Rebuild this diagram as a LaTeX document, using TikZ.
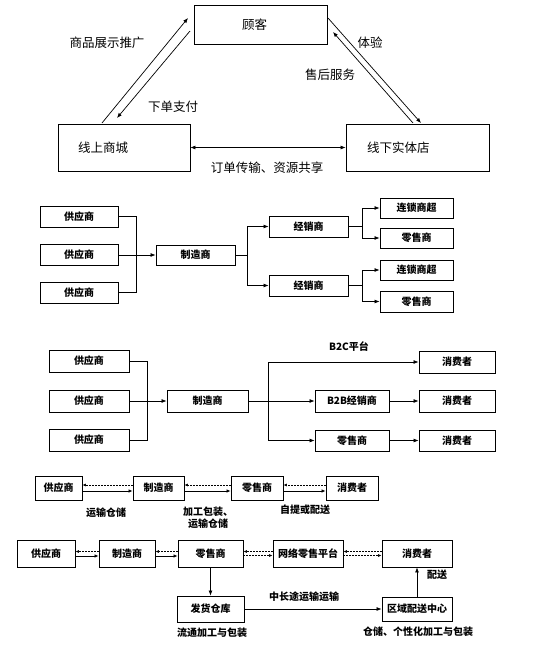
\documentclass[tikz,border=0pt]{standalone}
\usepackage{fontspec}
\setmainfont{Noto Sans CJK SC}
\usetikzlibrary{arrows.meta}
\begin{document}
\begin{tikzpicture}[x=1pt,y=-1pt,
  box/.style={draw, line width=0.9pt, inner sep=0pt, font=\fontsize{10}{12}\selectfont\bfseries},
  bigbox/.style={draw, line width=0.8pt, inner ysep=0pt, align=left, font=\fontsize{12.5}{14}\selectfont},
  lbl/.style={font=\fontsize{12.5}{14}\selectfont, inner sep=0pt},
  slbl/.style={font=\fontsize{10}{12}\selectfont\bfseries, inner sep=0pt, align=center},
  arr/.style={line width=0.7pt, -{Latex[length=5pt,width=4pt]}},
  arrb/.style={line width=0.7pt, {Latex[length=5pt,width=4pt]}-{Latex[length=5pt,width=4pt]}},
  ln/.style={line width=0.7pt},
  darr/.style={line width=0.6pt, dashed, dash pattern=on 2pt off 1pt, -{Latex[length=3.5pt,width=3pt]}},
  sarr/.style={line width=0.7pt, -{Latex[length=4pt,width=3.5pt]}}
]
\useasboundingbox (0,0) rectangle (533,646);

% ---------- Panel 1 ----------
\node[bigbox, minimum height=39, text width=37, inner xsep=48] (gk) at (260.5,24.5) {顾客};
\node[bigbox, minimum height=47, text width=92, inner xsep=20] (ol) at (124,147.5) {线上商城};
\node[bigbox, minimum height=47, text width=101, inner xsep=21] (os) at (417.5,147.5) {线下实体店};
\coordinate (a1) at (102,123); \coordinate (a2) at (188,18);
\coordinate (a3) at (190,31);  \coordinate (a4) at (117,118);
\coordinate (a5) at (328,18);  \coordinate (a6) at (421,123);
\coordinate (a7) at (413,123); \coordinate (a8) at (333,32);
\draw[arr] (a1) -- (a2);
\draw[arr] (a3) -- (a4);
\draw[arr] (a5) -- (a6);
\draw[arr] (a7) -- (a8);
\draw[arrb] (ol.east) -- (os.west);
\node[lbl] (l1) at (107,43) {商品展示推广};
\node[lbl] (l2) at (173,107) {下单支付};
\node[lbl] (l3) at (370,43) {体验};
\node[lbl] (l4) at (330,75) {售后服务};
\node[lbl] (l5) at (267,168) {订单传输、资源共享};

% ---------- Panel 2 ----------
\node[box, minimum width=78, minimum height=21] (s1) at (79,216.5) {供应商};
\node[box, minimum width=78, minimum height=21] (s2) at (79,255) {供应商};
\node[box, minimum width=78, minimum height=21] (s3) at (79,292.5) {供应商};
\node[box, minimum width=79, minimum height=20] (mf) at (195.5,255) {制造商};
\node[box, minimum width=79, minimum height=21] (d1) at (308.5,226.5) {经销商};
\node[box, minimum width=79, minimum height=21] (d2) at (308.5,285.5) {经销商};
\node[box, minimum width=73, minimum height=20] (c1) at (416.5,208) {连锁商超};
\node[box, minimum width=73, minimum height=20] (r1) at (416.5,238) {零售商};
\node[box, minimum width=73, minimum height=20] (c2) at (416.5,270) {连锁商超};
\node[box, minimum width=73, minimum height=21] (r2) at (416.5,301.5) {零售商};
\coordinate (j1) at (136,255);
\coordinate (j2) at (247,255);
\coordinate (j3) at (362,226.5);
\coordinate (j4) at (362,285.5);
\draw[ln] (s1.east) -| (j1);
\draw[ln] (s3.east) -| (j1);
\draw[arr] (s2.east) -- (mf.west);
\draw[ln] (mf.east) -- (j2);
\draw[arr] (j2) |- (d1.west);
\draw[arr] (j2) |- (d2.west);
\draw[ln] (d1.east) -- (j3);
\draw[arr] (j3) |- (c1.west);
\draw[arr] (j3) |- (r1.west);
\draw[ln] (d2.east) -- (j4);
\draw[arr] (j4) |- (c2.west);
\draw[arr] (j4) |- (r2.west);

% ---------- Panel 3 ----------
\node[box, minimum width=80, minimum height=22] (t1) at (89,361) {供应商};
\node[box, minimum width=80, minimum height=22] (t2) at (89,401) {供应商};
\node[box, minimum width=80, minimum height=22] (t3) at (89,440) {供应商};
\node[box, minimum width=81, minimum height=22] (m3) at (207.5,401) {制造商};
\node[box, minimum width=74, minimum height=22] (b2b) at (352,401) {B2B经销商};
\node[box, minimum width=74, minimum height=21] (ls) at (352,440.5) {零售商};
\node[box, minimum width=76, minimum height=22] (cs1) at (457,362) {消费者};
\node[box, minimum width=76, minimum height=22] (cs2) at (457,401) {消费者};
\node[box, minimum width=76, minimum height=21] (cs3) at (457,440.5) {消费者};
\coordinate (j5) at (147,401);
\coordinate (j6) at (268,401);
\draw[ln] (t1.east) -| (j5);
\draw[ln] (t3.east) -| (j5);
\draw[arr] (t2.east) -- (m3.west);
\draw[arr] (m3.east) -- (b2b.west);
\draw[arr] (j6) |- (cs1.west);
\draw[arr] (j6) |- (ls.west);
\draw[arr] (b2b.east) -- (cs2.west);
\draw[arr] (ls.east) -- (cs3.west);
\node[slbl] (b2c) at (349,347) {B2C平台};

% ---------- Panel 4 ----------
\node[box, minimum width=47, minimum height=24] (p1) at (58.5,488) {供应商};
\node[box, minimum width=51, minimum height=24] (p2) at (158.5,488) {制造商};
\node[box, minimum width=52, minimum height=24] (p3) at (257,488) {零售商};
\node[box, minimum width=52, minimum height=24] (p4) at (352,488) {消费者};
\foreach \a/\b in {p1/p2, p2/p3, p3/p4}{
  \draw[sarr] ([yshift=-3pt]\a.east) -- ([yshift=-3pt]\b.west);
  \draw[darr] ([yshift=3pt]\b.west) -- ([yshift=3pt]\a.east);
}
\node[slbl] (w1) at (106,513) {运输仓储};
\node[slbl] (w2) at (208,517.5) {加工包装、\\运输仓储};
\node[slbl] (w3) at (305,510) {自提或配送};

% ---------- Panel 5 ----------
\node[box, minimum width=58, minimum height=27] (q1) at (46,553.5) {供应商};
\node[box, minimum width=56, minimum height=27] (q2) at (127,553.5) {制造商};
\node[box, minimum width=65, minimum height=27] (q3) at (210.5,553.5) {零售商};
\node[box, minimum width=70, minimum height=27] (q4) at (308,553.5) {网络零售平台};
\node[box, minimum width=70, minimum height=27] (q5) at (417,553.5) {消费者};
\node[box, minimum width=67, minimum height=26] (q6) at (210.5,609) {发货仓库};
\node[box, minimum width=70, minimum height=24] (q7) at (417,609) {区域配送中心};
\foreach \a/\b in {q1/q2, q2/q3}{
  \draw[sarr] ([yshift=-2.5pt]\a.east) -- ([yshift=-2.5pt]\b.west);
  \draw[darr] ([yshift=2pt]\b.west) -- ([yshift=2pt]\a.east);
}
\foreach \a/\b in {q3/q4, q4/q5}{
  \draw[darr] ([yshift=-2pt]\a.east) -- ([yshift=-2pt]\b.west);
  \draw[darr] ([yshift=2pt]\b.west) -- ([yshift=2pt]\a.east);
}
\draw[arr] (q3.south) -- (q6.north);
\draw[arr] (q6.east) -- (q7.west);
\draw[arr] (q7.north) -- (q5.south);
\node[slbl] (v1) at (304,597) {中长途运输运输};
\node[slbl] (v2) at (437,575) {配送};
\node[slbl] (v3) at (212,633) {流通加工与包装};
\node[slbl] (v4) at (418,632) {仓储、个性化加工与包装};
\end{tikzpicture}
\end{document}
